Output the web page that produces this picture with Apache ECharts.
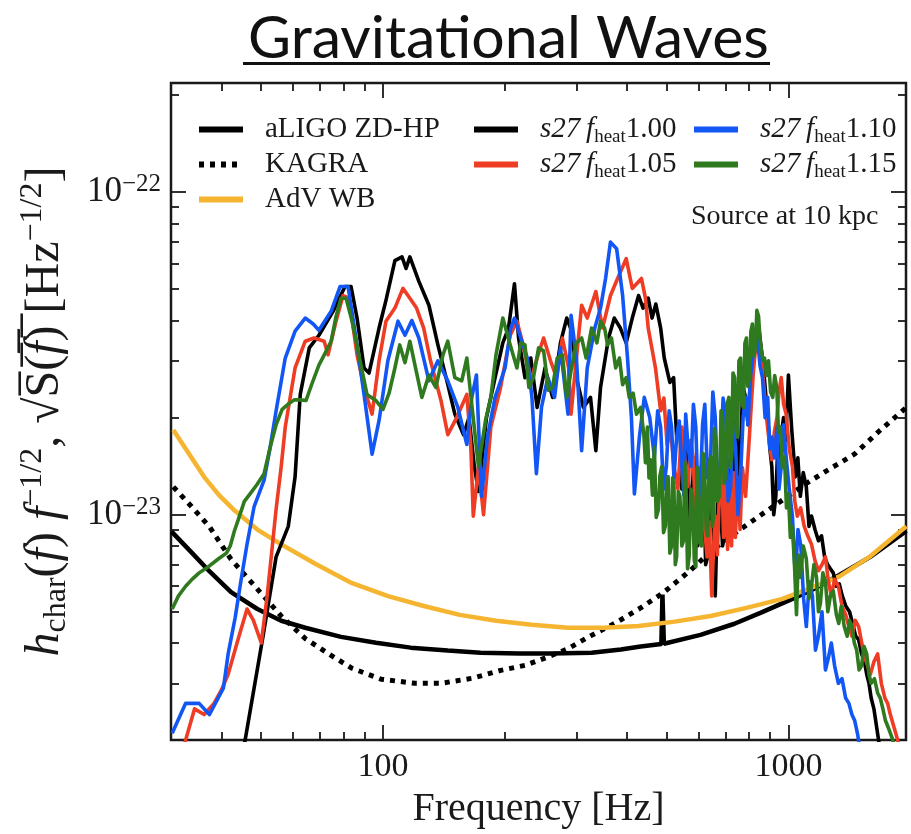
<!DOCTYPE html>
<html>
<head>
<meta charset="utf-8">
<script src="https://cdn.jsdelivr.net/npm/echarts@6/dist/echarts.min.js"></script>
<style>
  html, body { margin: 0; padding: 0; background: #fff; }
  #chart { width: 911px; height: 834px; }
</style>
</head>
<body>
<div id="chart"></div>
<script>
(function () {
    // axis limits and ticks (Hz, strain per sqrt(Hz))
    var freqMin = 30, freqMax = 1950;
    var ampMin = 2.0e-24, ampMax = 2.18e-22;
    var xMajorTicks = [100, 1000];
    var xMinorTicks = [40, 50, 60, 70, 80, 90, 200, 300, 400, 500, 600, 700, 800, 900];
    var yMajorTicks = [1e-23, 1e-22];
    var yMinorTicks = [3e-24, 4e-24, 5e-24, 6e-24, 7e-24, 8e-24, 9e-24,
        2e-23, 3e-23, 4e-23, 5e-23, 6e-23, 7e-23, 8e-23, 9e-23, 2e-22];

    // all amplitudes below are in units of 1e-23
    var unit = 1e-23;

    // detector noise curves
    var aligoFreq = [30.1, 33.7, 37.3, 42.2, 49.0, 56.1, 64.3, 78.8, 96.1, 117, 144.5, 174, 217, 259, 327, 386, 432, 486, 489, 493, 607, 736, 853, 1023, 1165, 1336, 1592, 1954];
    var aligoAmp = [0.886, 0.764, 0.668, 0.575, 0.510, 0.469, 0.446, 0.418, 0.401, 0.387, 0.379, 0.373, 0.371, 0.371, 0.373, 0.382, 0.390, 0.397, 0.565, 0.398, 0.424, 0.459, 0.496, 0.548, 0.592, 0.650, 0.740, 0.890];

    var kagraFreq = [30.4, 33.7, 37.3, 42.2, 49.0, 56.1, 64.3, 74.5, 83.9, 98.9, 120, 139, 166, 195, 224, 252, 286, 325, 375, 432, 490, 574, 643, 736, 844, 967, 1107, 1269, 1455, 1686, 1954];
    var kagraAmp = [1.22, 1.06, 0.918, 0.727, 0.588, 0.485, 0.413, 0.366, 0.334, 0.309, 0.300, 0.300, 0.311, 0.329, 0.341, 0.360, 0.384, 0.421, 0.462, 0.514, 0.571, 0.673, 0.769, 0.874, 0.986, 1.11, 1.25, 1.39, 1.54, 1.83, 2.15];

    var advFreq = [30.4, 36.2, 39.4, 42.7, 49.0, 56.1, 68.4, 83.9, 102.9, 126, 154.7, 190, 232.8, 286, 350, 427, 524, 643, 788, 967, 1133, 1336, 1592, 1954];
    var advAmp = [1.83, 1.31, 1.15, 1.04, 0.899, 0.809, 0.702, 0.613, 0.559, 0.521, 0.489, 0.469, 0.456, 0.446, 0.446, 0.452, 0.466, 0.485, 0.514, 0.548, 0.592, 0.644, 0.743, 0.920];

    // s27 model signals, [frequency Hz, amplitude]
    var heatLevels = ['1.00', '1.05', '1.10', '1.15'];
    var s27Heat100 = [[44.7,0.17],[50.6,0.42],[54.5,0.74],[58.4,0.92],[60.7,1.31],[62.5,2.36],[65.8,3.29],[69.5,3.60],[75.3,4.27],[80.6,5.10],[83.4,5.10],[86.3,4.07],[89.8,2.85],[92.4,2.75],[97.8,3.79],[101.7,4.62],[107,6.13],[111.4,6.3],[114,5.8],[116.5,6.3],[122.6,5.29],[129.8,4.46],[136.6,3.36],[144.5,2.53],[150.4,2.05],[158,1.77],[163,2.00],[168,1.41],[172,1.18],[180,2.00],[189,2.66],[197.5,3.41],[204,3.79],[211,5.2],[216,3.53],[224,2.66],[231.5,3.06],[240,2.15],[251,2.85],[262,2.31],[274,3.41],[284,4.07],[293,3.67],[300,2.66],[312,2.15],[325,2.31],[335,1.58],[344,2.48],[360,3.53],[372,4.07],[385,3.79],[398,3.41],[412,4.07],[427,4.78],[438,4.37],[451,4.69],[461,4.07],[471,4.5],[484,3.79],[494,3.06],[510,2.57],[521,2.66],[530,1.74],[540,1.87],[546,1.2],[552,1.31],[558,1.7],[565,1.51],[571,0.95],[578,1.06],[584,1.5],[591,1.41],[597,0.8],[604,0.86],[611,1.35],[618,1.22],[625,0.7],[632,0.74],[641,1.1],[651,0.99],[660,0.56],[670,1.2],[680,1.06],[688,0.8],[696,0.86],[704,1.5],[713,1.41],[720,0.95],[728,1.14],[736,1.95],[745,1.87],[753,1.3],[762,1.62],[772,2.5],[784,2.31],[795,1.9],[806,2.66],[817,3.1],[829,3.53],[848,3.67],[868,2.85],[889,2.00],[900,1.6],[910,1.41],[920,1.0],[931,1.14],[941,1.6],[952,1.41],[962,1.8],[973,2.00],[985,1.7],[1000,2.71],[1018,1.87],[1040,1.31],[1055,1.5],[1070,1.14],[1088,1.35],[1107,1.22],[1124,0.92],[1140,0.99],[1163,0.9],[1186,0.83],[1207,0.86],[1228,0.74],[1249,0.7],[1269,0.68],[1290,0.66],[1313,0.60],[1335,0.61],[1358,0.56],[1386,0.52],[1415,0.50],[1440,0.46],[1465,0.42],[1490,0.41],[1515,0.37],[1540,0.35],[1560,0.32],[1580,0.30],[1600,0.27],[1625,0.25],[1650,0.22],[1690,0.18]];
    var s27Heat105 = [[31.1,0.17],[32.6,0.20],[34.3,0.25],[36.2,0.24],[38.3,0.26],[39.9,0.285],[41.5,0.32],[43.9,0.41],[46.2,0.51],[47.9,0.47],[50.1,0.40],[51.8,0.56],[53.0,0.74],[54.5,1.04],[56.1,1.41],[57.4,1.87],[60.7,2.85],[64.3,3.45],[67.6,3.53],[71.6,3.45],[73.2,3.13],[76.6,3.98],[79.7,4.78],[82.5,4.69],[86.3,3.13],[89.8,2.48],[94,2.05],[97.8,3.0],[101.7,3.98],[107,4.37],[112,5.03],[116.5,4.69],[121,4.37],[126,3.79],[131,3.0],[139,2.26],[144.5,1.77],[152,2.0],[161,2.36],[164.7,1.62],[167,0.99],[172,1.41],[177,1.0],[184.5,1.87],[195,2.48],[206,3.6],[214,3.98],[221,3.41],[231.5,2.6],[240,3.06],[249,3.53],[259,3.0],[268,2.66],[277,3.53],[287,2.85],[291,2.05],[300,3.06],[309,4.46],[319,4.07],[335,4.92],[348,3.79],[364,4.78],[379,5.40],[398,6.22],[412,5.03],[434,5.40],[444,4.69],[451,3.79],[470,2.85],[484,2.1],[493,2.3],[502,1.65],[512,1.85],[522,1.41],[534,1.2],[546,1.87],[555,1.5],[565,1.22],[574,1.7],[582,1.51],[590,1.0],[598,0.86],[606,1.4],[615,1.31],[622,0.9],[630,0.74],[638,0.95],[647,0.56],[654,0.8],[660,0.99],[668,0.75],[676,1.2],[684,1.41],[692,0.85],[700,1.25],[708,0.78],[716,1.3],[724,0.8],[732,1.35],[740,0.85],[750,1.3],[760,0.9],[770,1.4],[784,1.14],[801,1.74],[810,2.2],[820,2.80],[839,3.79],[858,3.06],[870,2.5],[883,2.0],[896,1.7],[910,1.48],[923,1.8],[937,2.0],[948,2.4],[960,2.66],[973,2.2],[987,2.05],[1005,1.6],[1023,1.41],[1037,1.1],[1052,0.99],[1072,1.05],[1094,0.92],[1116,0.86],[1140,0.81],[1163,0.72],[1186,0.67],[1210,0.7],[1234,0.74],[1255,0.62],[1276,0.56],[1300,0.63],[1328,0.60],[1356,0.52],[1384,0.49],[1410,0.45],[1434,0.42],[1462,0.47],[1490,0.45],[1517,0.40],[1544,0.36],[1568,0.34],[1593,0.32],[1625,0.35],[1660,0.37],[1695,0.30],[1730,0.27],[1757,0.26],[1784,0.24],[1820,0.22],[1860,0.20],[1920,0.17]];
    var s27Heat110 = [[30.2,0.21],[32.6,0.26],[35.2,0.26],[37.3,0.24],[40.4,0.29],[41.5,0.37],[43.2,0.48],[44.5,0.61],[46.2,0.81],[48.1,1.06],[50.9,1.28],[52.7,1.62],[54.5,2.1],[57.4,3.06],[60.7,3.71],[64.3,4.07],[67.3,3.9],[69.5,3.73],[72,4.0],[74.5,4.27],[78.4,5.10],[82.0,5.10],[86.3,3.36],[89.8,2.36],[94,1.54],[97.8,1.96],[102.8,3.0],[108.9,3.98],[113.3,3.6],[117.8,4.0],[122.6,3.53],[129.8,2.6],[136.6,3.0],[144.5,2.6],[153,2.15],[161,1.65],[165.6,2.31],[170,2.71],[175,1.14],[181,1.74],[189,2.31],[200,2.85],[206.7,3.79],[211,4.07],[218.7,3.53],[227,3.06],[233,2.31],[239,1.34],[246,2.15],[255,2.66],[265,2.31],[274,3.29],[286,2.05],[291,4.15],[300,3.06],[309,1.58],[319,2.85],[333,3.79],[344,4.37],[354,5.40],[364,7.0],[377,6.68],[390,4.78],[401,3.06],[410,2.0],[417,1.16],[429,1.74],[441,2.31],[455,2.0],[467,1.51],[476,2.1],[484,1.87],[492,1.2],[500,1.41],[508,2.1],[515,1.87],[522,1.3],[530,1.74],[538,1.95],[546,1.41],[552,1.15],[558,2.05],[566,1.6],[575,1.41],[583,2.2],[591,1.87],[599,1.1],[607,1.22],[614,1.9],[622,2.2],[632,1.3],[643,1.51],[651,2.4],[660,2.0],[670,1.2],[680,1.41],[690,2.3],[700,2.05],[710,1.1],[720,1.22],[730,1.9],[741,1.62],[751,1.0],[762,1.31],[773,2.0],[784,2.31],[795,1.9],[806,2.66],[820,3.22],[839,3.53],[851,2.9],[863,2.66],[876,2.0],[889,2.31],[900,1.6],[910,1.74],[924,1.5],[937,1.87],[948,1.2],[960,1.41],[973,1.9],[987,1.51],[1005,1.2],[1023,0.99],[1040,0.64],[1056,0.9],[1073,0.80],[1090,0.55],[1107,0.45],[1126,0.62],[1146,0.56],[1166,0.38],[1186,0.42],[1210,0.5],[1234,0.33],[1255,0.36],[1276,0.40],[1300,0.34],[1328,0.30],[1356,0.31],[1384,0.27],[1410,0.26],[1434,0.24],[1457,0.23],[1480,0.21],[1520,0.17]];
    var s27Heat115 = [[30.2,0.51],[31.3,0.56],[32.6,0.60],[33.8,0.63],[35.2,0.66],[37.1,0.69],[39.3,0.73],[41.1,0.76],[42.0,0.80],[43.0,0.89],[43.9,0.96],[45.5,1.10],[47.0,1.16],[48.9,1.24],[50.9,1.34],[52.7,1.62],[54.5,1.90],[56.4,2.12],[58.3,2.20],[60.4,2.27],[62.5,2.27],[64.6,2.26],[66.9,2.56],[69.5,2.91],[72,3.17],[74.5,3.45],[76.6,4.12],[78.8,4.69],[81.1,4.69],[83.9,3.98],[87.8,3.0],[91.3,2.36],[96,2.26],[100,2.12],[103.5,2.38],[107,2.85],[110,3.36],[113.3,2.96],[116.5,3.45],[119.9,2.91],[124.7,2.31],[129.8,2.71],[135,2.48],[140.6,3.13],[144.5,3.45],[150.4,2.66],[156.4,2.6],[161,3.06],[165.6,2.19],[172,1.41],[179,1.96],[184.5,2.31],[190,3.13],[197.5,4.07],[206,3.36],[214,2.85],[218.7,3.41],[224,3.36],[229,2.48],[235,2.66],[242,3.29],[249,3.22],[256,2.43],[262,2.48],[269,3.06],[277,3.13],[284,2.31],[291,2.8],[300,3.41],[309,3.53],[317,3.06],[327,3.79],[337,3.41],[344,3.98],[352,3.79],[358,3.36],[366,3.53],[375,2.85],[383,3.06],[390,2.53],[398,2.66],[405,2.31],[414,2.38],[422,2.05],[432,2.15],[440,1.77],[444,1.45],[449,1.87],[453,1.3],[457,1.48],[462,1.15],[467,1.62],[472,0.98],[478,1.04],[482,1.32],[487,1.41],[492,0.88],[497,0.92],[501,1.25],[505,1.31],[510,0.76],[515,0.80],[518,1.3],[522,1.22],[526,0.7],[530,0.74],[535,1.18],[540,1.14],[546,0.8],[551,0.83],[555,1.45],[558,1.31],[564,0.68],[569,0.74],[575,1.2],[580,1.14],[586,0.72],[591,0.69],[595,1.4],[598,1.31],[604,0.82],[610,0.80],[616,1.55],[621,1.41],[627,0.9],[632,0.86],[638,1.45],[643,1.51],[649,0.92],[654,0.99],[657,1.85],[660,1.74],[668,1.1],[676,1.14],[682,2.1],[688,2.0],[694,1.25],[700,1.31],[706,2.2],[713,2.31],[718,1.4],[724,1.51],[730,2.75],[737,2.66],[743,1.8],[749,1.74],[755,3.0],[762,3.06],[768,2.2],[775,2.15],[781,3.4],[788,3.53],[794,2.5],[801,2.66],[808,3.7],[815,3.9],[822,3.1],[829,3.29],[836,4.3],[844,4.12],[851,3.5],[858,3.53],[865,3.0],[873,3.06],[883,2.7],[893,3.0],[904,2.4],[915,2.31],[925,2.7],[936,2.48],[945,1.8],[955,1.87],[966,1.4],[978,1.51],[989,1.05],[1000,1.16],[1011,0.85],[1023,0.92],[1035,0.7],[1047,0.49],[1058,0.75],[1070,0.64],[1088,0.8],[1107,0.73],[1124,0.55],[1140,0.60],[1156,0.7],[1173,0.64],[1186,0.5],[1199,0.53],[1216,0.66],[1234,0.62],[1251,0.5],[1269,0.56],[1290,0.58],[1313,0.49],[1331,0.46],[1350,0.52],[1373,0.45],[1396,0.42],[1415,0.47],[1434,0.45],[1454,0.40],[1474,0.38],[1494,0.33],[1515,0.34],[1537,0.39],[1560,0.37],[1580,0.32],[1600,0.30],[1630,0.31],[1660,0.28],[1685,0.27],[1710,0.25],[1735,0.23],[1760,0.22],[1785,0.21],[1810,0.20],[1850,0.17]];

    var serif = 'Liberation Serif';
    var ink = '#1a1a1a';
    var lg = function (v) { return Math.log10(v); };
    var zip = function (fs, as) { return fs.map(function (f, i) { return [lg(f), lg(as[i] * unit)]; }); };
    var pts = function (pairs) { return pairs.map(function (p) { return [lg(p[0]), lg(p[1] * unit)]; }); };

    var heatNames = heatLevels.map(function (h) { return 's27 heat ' + h; });
    var heatColors = ['#000000', '#ee3d24', '#1257f5', '#2f7a1f'];
    var heatData = [s27Heat100, s27Heat105, s27Heat110, s27Heat115];

    function xAxisDef(pos, ticks, len, labels) {
        return {
            type: 'value', position: pos, min: lg(freqMin), max: lg(freqMax),
            axisLine: { show: false }, splitLine: { show: false },
            axisTick: { show: true, inside: true, length: len, customValues: ticks.map(lg),
                lineStyle: { color: ink, width: 1.8 } },
            axisLabel: labels ? {
                show: true, customValues: ticks.map(lg), margin: 10,
                fontFamily: serif, fontSize: 34, color: ink,
                formatter: function (v) { return String(Math.round(Math.pow(10, v))); }
            } : { show: false },
            name: labels ? 'Frequency [Hz]' : '',
            nameLocation: 'middle', nameGap: 40,
            nameTextStyle: { fontFamily: serif, fontSize: 40, color: ink }
        };
    }

    function yAxisDef(pos, ticks, len, labels) {
        return {
            type: 'value', position: pos, min: lg(ampMin), max: lg(ampMax),
            axisLine: { show: false }, splitLine: { show: false },
            axisTick: { show: true, inside: true, length: len, customValues: ticks.map(lg),
                lineStyle: { color: ink, width: 1.8 } },
            axisLabel: labels ? {
                show: true, customValues: ticks.map(lg), margin: 10,
                fontFamily: serif, fontSize: 35, color: ink, lineHeight: 40,
                formatter: function (v) { return '10{sup|\u2212' + Math.round(-v) + '}'; },
                rich: { sup: { fontFamily: serif, fontSize: 25, lineHeight: 22, verticalAlign: 'top', color: ink } }
            } : { show: false },
            name: labels ? '{it|h}{sub|char}({it|f}) {it|f}{sup|\u22121/2}, \u221AS\u0305(\u0305{it|f\u0305})\u0305 [Hz{sup|\u22121/2}]' : '',
            nameLocation: 'middle', nameRotate: 90, nameGap: 98,
            nameTextStyle: {
                fontFamily: serif, fontSize: 48, color: ink, lineHeight: 56,
                rich: {
                    it: { fontFamily: serif, fontStyle: 'italic', fontSize: 48, color: ink },
                    sub: { fontFamily: serif, fontSize: 32, lineHeight: 31, verticalAlign: 'bottom', color: ink },
                    sup: { fontFamily: serif, fontSize: 32, lineHeight: 31, verticalAlign: 'top', color: ink }
                }
            }
        };
    }

    var legendText = {
        fontFamily: serif, fontSize: 29, color: ink, lineHeight: 35,
        rich: {
            gap: { width: 17 },
            it: { fontFamily: serif, fontStyle: 'italic', fontSize: 29, color: ink },
            sub: { fontFamily: serif, fontSize: 19, lineHeight: 20, verticalAlign: 'bottom', color: ink }
        }
    };
    var legendFormat = function (name) {
        if (name.indexOf('s27') === 0) {
            return '{gap|}{it|s27\u2009f}{sub|heat}' + name.slice(-4);
        }
        return '{gap|}' + name;
    };
    function legendDef(names, left) {
        return {
            data: names, orient: 'vertical', left: left, top: 107,
            itemWidth: 44, itemHeight: 14, itemGap: 0,
            selectedMode: false, textStyle: legendText, formatter: legendFormat,
            lineStyle: { width: 6 }, itemStyle: { opacity: 0 }
        };
    }

    var series = [
        { name: 'aLIGO ZD-HP', data: zip(aligoFreq, aligoAmp), color: '#000000',
          lineStyle: { width: 4.5, color: '#000000' } },
        { name: 'KAGRA', data: zip(kagraFreq, kagraAmp), color: '#000000',
          lineStyle: { width: 5, color: '#000000', type: [5, 6] } },
        { name: 'AdV WB', data: zip(advFreq, advAmp), color: '#f6b530',
          lineStyle: { width: 4.5, color: '#f6b530' } }
    ];
    heatNames.forEach(function (n, i) {
        series.push({ name: n, data: pts(heatData[i]), color: heatColors[i],
            lineStyle: { width: 3.6, color: heatColors[i], join: 'round' } });
    });
    series.forEach(function (s) {
        s.type = 'line';
        s.symbol = 'none';
        s.showSymbol = false;
        s.xAxisIndex = 0;
        s.yAxisIndex = 0;
        s.animation = false;
        s.emphasis = { disabled: true };
    });

    var myChart = echarts.init(document.getElementById('chart'));
    var option = {
        backgroundColor: '#ffffff',
        animation: false,
        title: [
            { text: 'Gravitational Waves', left: 243, top: 4,
              textStyle: { fontFamily: 'Lato', fontSize: 59, fontWeight: 'normal', color: '#111' } },
            { text: 'Source at 10 kpc', left: 686, top: 198,
              textStyle: { fontFamily: serif, fontSize: 28, fontWeight: 'normal', color: ink } }
        ],
        graphic: [
            { type: 'rect', left: 243, top: 62, shape: { width: 527, height: 3 }, style: { fill: '#111' } }
        ],
        grid: { left: 171, right: 5, top: 83, bottom: 88, show: true, borderColor: ink, borderWidth: 2.5 },
        legend: [
            legendDef(['aLIGO ZD-HP', 'KAGRA', 'AdV WB'], 191),
            legendDef([heatNames[0], heatNames[1]], 466),
            legendDef([heatNames[2], heatNames[3]], 686)
        ],
        xAxis: [
            xAxisDef('bottom', xMajorTicks, 15, true),
            xAxisDef('bottom', xMinorTicks, 8, false),
            xAxisDef('top', xMajorTicks, 15, false),
            xAxisDef('top', xMinorTicks, 8, false)
        ],
        yAxis: [
            yAxisDef('left', yMajorTicks, 15, true),
            yAxisDef('left', yMinorTicks, 8, false),
            yAxisDef('right', yMajorTicks, 15, false),
            yAxisDef('right', yMinorTicks, 8, false)
        ],
        series: series
    };
    myChart.setOption(option);
})();
</script>
</body>
</html>
